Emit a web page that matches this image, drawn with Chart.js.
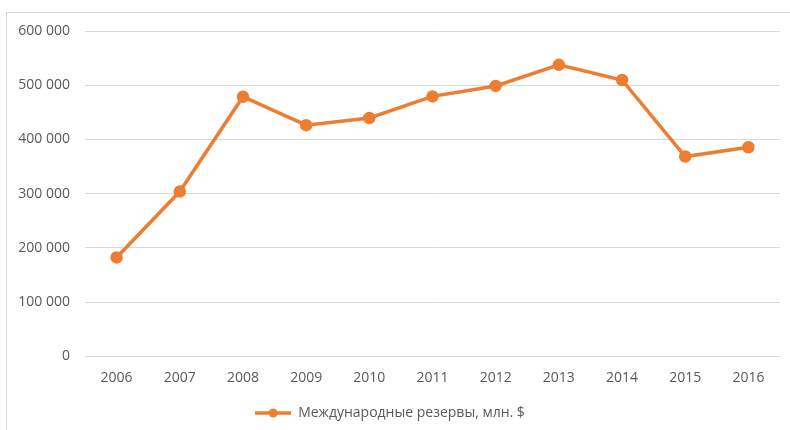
<!DOCTYPE html>
<html><head><meta charset="utf-8">
<script src="https://cdn.jsdelivr.net/npm/chart.js@4/dist/chart.umd.min.js"></script>
<style>
html,body{margin:0;padding:0;background:#fff;}
#wrap{position:relative;width:790px;height:430px;}
#frame{position:absolute;left:6px;top:12px;width:800px;height:430px;border:1px solid #d9d9d9;pointer-events:none;box-sizing:border-box;}
canvas{position:absolute;left:0;top:0;}
</style></head>
<body>
<div id="wrap"><canvas id="c" width="790" height="430"></canvas><div id="frame"></div></div>
<script>
const years = ['2006','2007','2008','2009','2010','2011','2012','2013','2014','2015','2016'];
const reserves = [182240, 303732, 478762, 426281, 439450, 479379, 498649, 537618, 509595, 368399, 385459];
const seriesName = 'Международные резервы, млн. $';
const yTicks = [0, 100000, 200000, 300000, 400000, 500000, 600000];

const color = '#ED7D31';
const fontFamily = "'Open Sans', 'Liberation Sans', sans-serif";

const legendImg = document.createElement('canvas');
legendImg.width = 36; legendImg.height = 10;
(function(){
  const g = legendImg.getContext('2d');
  g.strokeStyle = color; g.lineWidth = 3.5; g.lineCap='round';
  g.beginPath(); g.moveTo(1,5); g.lineTo(35,5); g.stroke();
  g.fillStyle = color; g.beginPath(); g.arc(18,5,4.5,0,Math.PI*2); g.fill();
})();

function fmt(v){ return String(v).replace(/\B(?=(\d{3})+(?!\d))/g,' '); }

new Chart(document.getElementById('c'), {
  type: 'line',
  data: {
    labels: years,
    datasets: [{
      label: seriesName,
      data: reserves,
      borderColor: color,
      backgroundColor: color,
      borderWidth: 3.5,
      pointRadius: 4.5,
      pointBackgroundColor: color,
      pointBorderColor: color,
      pointStyle: 'circle',
      tension: 0,
      fill: false
    }]
  },
  options: {
    responsive: false,
    animation: false,
    devicePixelRatio: 1,
    layout: { padding: { top: 31, right: 10, bottom: 0, left: 0 } },
    plugins: {
      legend: {
        position: 'bottom',
        labels: {
          usePointStyle: true,
          pointStyle: legendImg,
          pointStyleWidth: 36,
          boxHeight: 10,
          padding: 7,
          color: '#595959',
          font: { family: fontFamily, size: 14 }
        }
      },
      tooltip: { enabled: false }
    },
    scales: {
      x: {
        offset: true,
        grid: { display: false, drawTicks: false },
        border: { display: false },
        ticks: { color: '#595959', padding: 13, font: { family: fontFamily, size: 14 } }
      },
      y: {
        min: 0, max: 600000,
        afterBuildTicks: (s) => { s.ticks = yTicks.map(v => ({ value: v })); },
        afterFit: (s) => { s.width = 85; },
        grid: { color: '#d9d9d9', lineWidth: 1, drawTicks: false },
        border: { display: false },
        ticks: { color: '#595959', padding: 15, font: { family: fontFamily, size: 14 }, callback: (v) => fmt(v) }
      }
    }
  }
});
</script>
</body></html>
